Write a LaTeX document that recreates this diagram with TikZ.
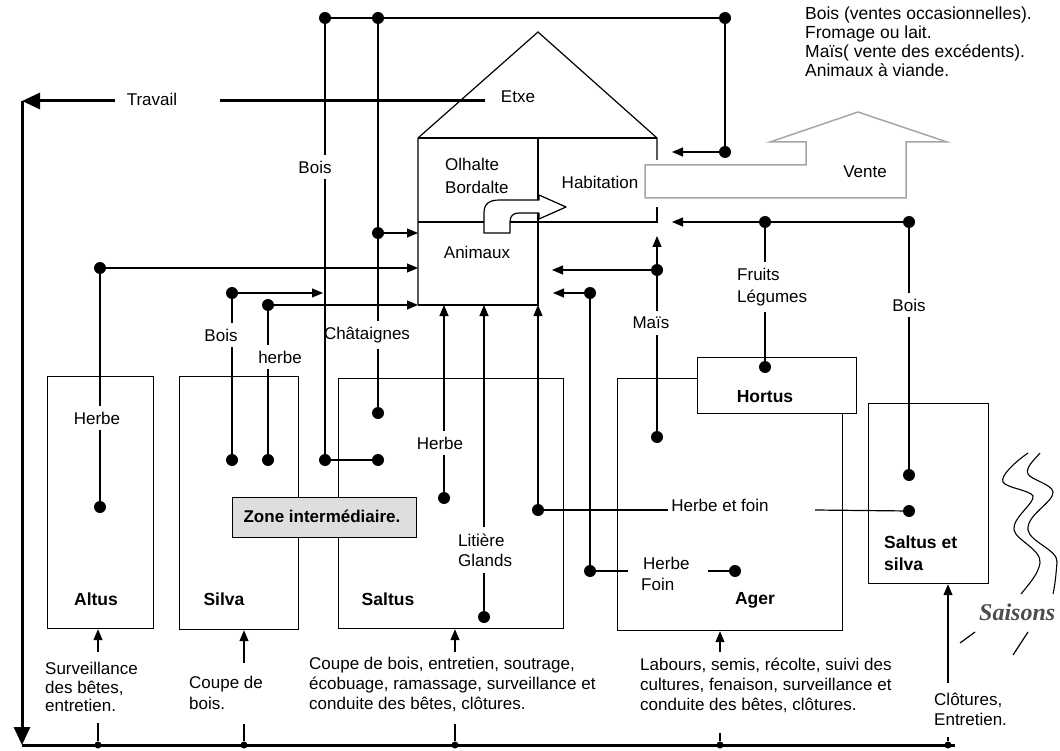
\documentclass[tikz,border=0pt]{standalone}
\usepackage{fontspec}
\setmainfont{Liberation Sans}
\newfontfamily\saisfont{Liberation Serif}
\usetikzlibrary{arrows.meta}
\begin{document}
\begin{tikzpicture}[x=1pt,y=-1pt,
  ln/.style={line width=1.2pt},
  tk/.style={line width=3pt},
  arr/.style={ln,-{Triangle[length=11pt,width=9pt]}},
  tarr/.style={tk,-{Triangle[length=18pt,width=16pt]}},
  dot/.style={circle,fill=black,inner sep=0pt,minimum size=12pt},
  sdot/.style={circle,fill=black,inner sep=0pt,minimum size=7pt},
  lbl/.style={font=\fontsize{17}{20}\selectfont,inner sep=6pt,align=left},
  txt/.style={font=\fontsize{17}{20}\selectfont,inner sep=0pt,align=left,anchor=north west},
  blbl/.style={font=\fontsize{17.5}{22}\selectfont\bfseries,inner sep=2pt,align=left},
  box/.style={draw,ln,inner sep=0pt,anchor=north west},
]
\useasboundingbox (0,0) rectangle (1060,751);

% ---------------- boxes ----------------
\node[box,minimum width=106pt,minimum height=252pt] (altus) at (47,376) {};
\node[box,minimum width=119pt,minimum height=253pt] (silva) at (179,376) {};
\node[box,minimum width=225pt,minimum height=250pt] (saltus) at (338,378) {};
\node[box,minimum width=225pt,minimum height=252pt] (ager) at (617,378) {};
\node[box,fill=white,minimum width=159pt,minimum height=56pt] (hortus) at (697,357) {};
\node[box,minimum width=120pt,minimum height=180pt] (ss) at (868,403) {};
\node[box,fill=black!13,minimum width=184pt,minimum height=40pt] (zone) at (232,497) {};

\node[blbl] (naltus) at (96,599) {Altus};
\node[blbl] (nsilva) at (224,599) {Silva};
\node[blbl] (nsaltus) at (388,599) {Saltus};
\node[blbl] (nager) at (755,600) {Ager};
\node[blbl] (nhortus) at (765,397) {Hortus};
\node[blbl,font=\fontsize{17}{22}\selectfont\bfseries] (nzone) at (322,516) {Zone intermédiaire.};
\node[blbl,anchor=west] (nss) at (882,553) {Saltus et\\silva};

% ---------------- house ----------------
\coordinate (apex) at (538,32);
\coordinate (rl) at (418,138);
\coordinate (rr) at (657,138);
\coordinate (rm) at (538,138);
\draw[ln] (418,305) -- (rl) -- (apex) -- (rr) -- (657,160);
\draw[ln] (rl) -- (rr);
\draw[ln] (657,207) -- (657,222) -- (418,222);
\draw[ln] (rm) -- (538,305) -- (418,305);
\draw[ln,fill=white,line join=round] (484,233) -- (484,213) .. controls (484,203) and (490,200) .. (500,200) -- (539,200) -- (539,195) -- (566,207) -- (539,219) -- (539,213) -- (519,213) .. controls (513,213) and (510,216) .. (510,222) -- (510,233) -- cycle;
\node[lbl] (letxe) at (518,97) {Etxe};
\node[txt,anchor=west,font=\fontsize{17}{23}\selectfont] (lolh) at (445,176) {Olhalte\\Bordalte};
\node[lbl] (lhab) at (600,182) {Habitation};
\node[lbl] (lani) at (477,252) {Animaux};

% Vente arrow
\draw[black!35,line width=1.5pt,line join=miter] (645,165) -- (806,165) -- (806,142) -- (770,142) -- (858,112) -- (947,142) -- (906,142) -- (906,198) -- (645,198) -- cycle;
\node[lbl] (lvente) at (865,172) {Vente};
\node[txt,font=\fontsize{17.5}{19}\selectfont] (lsales) at (805,7) {Bois (ventes occasionnelles).\\Fromage ou lait.\\Maïs( vente des excédents).\\Animaux à viande.};

% ---------------- Travail loop ----------------
\coordinate (tr0) at (485,101);
\coordinate (tra) at (220,101);
\coordinate (trb) at (115,101);
\node[lbl] (ltrav) at (152,99) {Travail};
\coordinate (trc) at (22,101);
\coordinate (blc) at (22,745);
\coordinate (brc) at (955,745);
\draw[tk] (tr0) -- (tra);
\draw[tarr] (trb) -- (trc);
\draw[tarr] (trc) -- (blc);
\draw[tk] (blc) -- (brc);

% ---------------- top connections ----------------
\node[dot] (t1) at (325,18) {};
\node[dot] (t2) at (378,18) {};
\node[dot] (t3) at (725,18) {};
\draw[ln] (t1) -- (t2) -- (t3);
\node[dot] (t4) at (725,152) {};
\coordinate (h1) at (672,152);
\draw[ln] (t3) -- (t4);
\draw[arr] (t4) -- (h1);

% Bois x=325
\node[lbl] (lbois1) at (315,167) {Bois};
\node[dot] (b1) at (325,460) {};
\node[dot] (b2) at (378,460) {};
\draw[ln] (t1) -- (t1 |- lbois1.north);
\draw[ln] (t1 |- lbois1.south) -- (b1);
\draw[ln] (b1) -- (b2);

% Chataignes x=378
\node[dot] (c1) at (378,233) {};
\coordinate (hl1) at (418,233);
\node[lbl] (lchat) at (367,335) {Châtaignes};
\node[dot] (c2) at (378,413) {};
\draw[ln] (t2) -- (c1);
\draw[ln] (c1) -- (c1 |- lchat.north);
\draw[ln] (c1 |- lchat.south) -- (c2);
\draw[arr] (c1) -- (hl1);

% Altus
\node[dot] (a1) at (100,268) {};
\coordinate (hl2) at (418,268);
\draw[arr] (a1) -- (hl2);
\node[lbl] (lherbe1) at (97,418) {Herbe};
\node[dot] (a2) at (100,507) {};
\draw[ln] (a1) -- (a1 |- lherbe1.north);
\draw[ln] (a1 |- lherbe1.south) -- (a2);

% Silva
\node[dot] (s1) at (232,293) {};
\coordinate (sb) at (323,293);
\draw[arr] (s1) -- (sb);
\node[lbl] (lbois2) at (221,335) {Bois};
\node[dot] (s2) at (232,460) {};
\draw[ln] (s1) -- (s1 |- lbois2.north);
\draw[ln] (s1 |- lbois2.south) -- (s2);
\node[dot] (s3) at (268,305) {};
\coordinate (hl3) at (418,305);
\draw[arr] (s3) -- (hl3);
\node[lbl] (lherbe2) at (280,357) {herbe};
\node[dot] (s4) at (268,460) {};
\draw[ln] (s3) -- (s3 |- lherbe2.north);
\draw[ln] (s3 |- lherbe2.south) -- (s4);

% Saltus
\coordinate (hb1) at (444,305);
\node[lbl] (lherbe3) at (440,443) {Herbe};
\node[dot] (u1) at (444,498) {};
\draw[arr] (hb1 |- lherbe3.north) -- (hb1);
\draw[ln] (u1) -- (u1 |- lherbe3.south);
\coordinate (hb2) at (484,305);
\node[lbl,anchor=west] (llit) at (452,550) {Litière\\Glands};
\node[dot] (u2) at (484,617) {};
\draw[arr] (hb2 |- llit.north) -- (hb2);
\draw[ln] (u2) -- (u2 |- llit.south);
\coordinate (hb3) at (538,305);
\node[dot] (g1) at (538,510) {};
\draw[arr] (g1) -- (hb3);
\node[lbl] (lhf) at (720,505) {Herbe et foin};
\coordinate (g1e) at (668,510);
\coordinate (g2s) at (815,510);
\node[dot] (g2) at (909,511) {};
\draw[ln] (g1) -- (g1e);
\draw[ln] (g2s) -- (g2);

% x=590
\node[dot] (m2) at (590,293) {};
\coordinate (hr2) at (553,293);
\draw[arr] (m2) -- (hr2);
\node[dot] (hf1) at (590,571) {};
\draw[ln] (m2) -- (hf1);
\coordinate (hf1e) at (628,571);
\draw[ln] (hf1) -- (hf1e);
\node[txt,anchor=west,font=\fontsize{17}{21}\selectfont] (lhf2) at (643,574) {Herbe\\\hspace*{-2pt}Foin};
\coordinate (hf2s) at (708,571);
\node[dot] (hf2) at (735,571) {};
\draw[ln] (hf2s) -- (hf2);

% Mais x=657
\node[dot] (m1) at (657,270) {};
\coordinate (hr1) at (552,270);
\coordinate (hup) at (657,236);
\draw[arr] (m1) -- (hr1);
\draw[arr] (m1) -- (hup);
\node[lbl] (lmais) at (651,323) {Maïs};
\node[dot] (m3) at (657,437) {};
\draw[ln] (m1) -- (m1 |- lmais.north);
\draw[ln] (m1 |- lmais.south) -- (m3);

% Fruits / Bois right
\node[dot] (f1) at (765,222) {};
\node[dot] (f2) at (909,222) {};
\coordinate (h2) at (672,222);
\draw[ln] (f2) -- (f1);
\draw[arr] (f1) -- (h2);
\node[lbl,anchor=west,font=\fontsize{17}{22}\selectfont] (lfruit) at (731,287) {Fruits\\Légumes};
\node[dot] (f3) at (765,367) {};
\draw[ln] (f1) -- (f1 |- lfruit.north);
\draw[ln] (f1 |- lfruit.south) -- (f3);
\node[lbl] (lbois3) at (909,305) {Bois};
\node[dot] (f4) at (909,475) {};
\draw[ln] (f2) -- (f2 |- lbois3.north);
\draw[ln] (f2 |- lbois3.south) -- (f4);

% ---------------- bottom work ----------------
\node[sdot] (bk1) at (98,745) {};
\node[sdot] (bk2) at (244,745) {};
\node[sdot] (bk3) at (455,745) {};
\node[sdot] (bk4) at (720,745) {};
\node[sdot] (bk5) at (948,745) {};
\coordinate (k1t) at (98,723);
\coordinate (k2t) at (244,724);
\coordinate (k3t) at (455,724);
\coordinate (k4t) at (720,733);
\coordinate (k5t) at (948,737);
\coordinate (k1a) at (98,652);
\coordinate (k2a) at (244,663);
\coordinate (k3a) at (455,652);
\coordinate (k4a) at (720,652);
\coordinate (k5a) at (948,683);
\draw[ln] (bk1) -- (k1t);
\draw[ln] (bk2) -- (k2t);
\draw[ln] (bk3) -- (k3t);
\draw[ln] (bk4) -- (k4t);
\draw[ln] (bk5) -- (k5t);
\draw[arr] (k1a) -- (k1a |- altus.south);
\draw[arr] (k2a) -- (k2a |- silva.south);
\draw[arr] (k3a) -- (k3a |- saltus.south);
\draw[arr] (k4a) -- (k4a |- ager.south);
\draw[arr] (k5a) -- (k5a |- ss.south);
\node[txt,font=\fontsize{17}{18.5}\selectfont] (w1) at (45,662) {Surveillance\\des bêtes,\\entretien.};
\node[txt,font=\fontsize{17}{21}\selectfont] (w2) at (189,676) {Coupe de\\bois.};
\node[txt] (w3) at (309,657) {Coupe de bois, entretien, soutrage,\\écobuage, ramassage, surveillance et\\conduite des bêtes, clôtures.};
\node[txt] (w4) at (640,658) {Labours, semis, récolte, suivi des\\cultures, fenaison, surveillance et\\conduite des bêtes, clôtures.};
\node[txt] (w5) at (934,693) {Clôtures,\\Entretien.};

% ---------------- seasons ----------------
\draw[line width=1.1pt] (1028,453) .. controls (1015,462) and (1000,476) .. (1003,482) .. controls (1006,488) and (1030,490) .. (1033,496) .. controls (1035,503) and (1012,518) .. (1014,530) .. controls (1016,540) and (1042,550) .. (1040,563) .. controls (1038,575) and (1028,585) .. (1021,594);
\draw[line width=1.1pt] (1040,453) .. controls (1034,460) and (1025,468) .. (1028,474) .. controls (1031,480) and (1052,484) .. (1053,492) .. controls (1054,502) and (1026,515) .. (1028,530) .. controls (1030,542) and (1058,550) .. (1057,562) .. controls (1056,575) and (1055,585) .. (1053,594);
\node[anchor=west,inner sep=0pt,text=black!70,font=\saisfont\bfseries\itshape\fontsize{24}{28}\selectfont] (lsais) at (979,612) {Saisons};
\draw[ln] (960,643) -- (975,632);
\draw[ln] (1013,655) -- (1028,632);
\end{tikzpicture}
\end{document}
